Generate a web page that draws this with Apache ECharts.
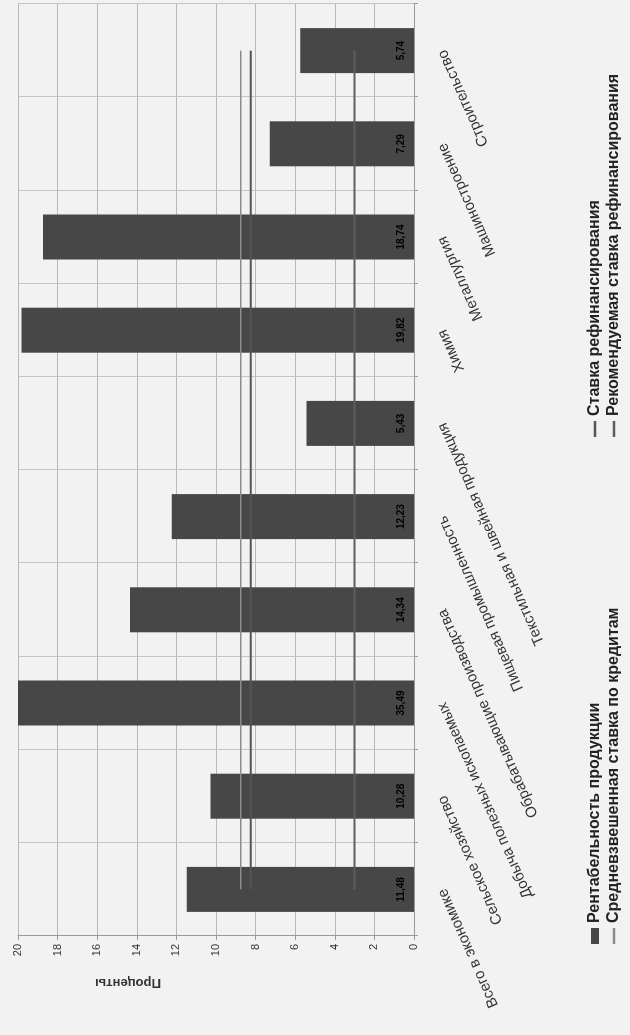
<!DOCTYPE html>
<html><head><meta charset="utf-8">
<script src="https://cdn.jsdelivr.net/npm/echarts@6/dist/echarts.min.js"></script>
<style>
html,body{margin:0;padding:0;background:#f2f2f2;overflow:hidden;width:630px;height:1035px;}
#chart{position:absolute;left:0;top:0;width:1035px;height:630px;transform-origin:0 0;transform:translateY(1035px) rotate(-90deg);}
</style></head><body><div id="chart"></div>
<script>
const categories = ["Всего в экономике", "Сельское хозяйство", "Добыча полезных ископаемых", "Обрабатывающие производства", "Пищевая промышленность", "Текстильная и швейная продукция", "Химия", "Металлургия", "Машиностроение", "Строительство"];
const profitability = [11.48, 10.28, 35.49, 14.34, 12.23, 5.43, 19.82, 18.74, 7.29, 5.74];
const avgLoanRate = [8.75, 8.75, 8.75, 8.75, 8.75, 8.75, 8.75, 8.75, 8.75, 8.75];
const refinancingRate = [8.25, 8.25, 8.25, 8.25, 8.25, 8.25, 8.25, 8.25, 8.25, 8.25];
const recommendedRate = [3, 3, 3, 3, 3, 3, 3, 3, 3, 3];
const valueTicks = [0, 20, 2];

const seriesNames = ["Рентабельность продукции", "Средневзвешенная ставка по кредитам", "Ставка рефинансирования", "Рекомендуемая ставка рефинансирования"];

const lineIcon = 'path://M0,0L0.01,0M0,2.8L16,2.8L16,5.2L0,5.2ZM0,8L0.01,8';
const chart = echarts.init(document.getElementById('chart'), null, {renderer: 'canvas'});
const font = 'Liberation Sans';
const legendText = {fontFamily: font, fontSize: 16, color: '#222', fontWeight: 'bold'};
chart.setOption({
  backgroundColor: '#f2f2f2',
  animation: false,
  grid: {left: 99, right: 4, top: 18, bottom: 216, show: false},
  legend: [
    {data: [{name: seriesNames[0], icon: 'rect'}, {name: seriesNames[1], icon: lineIcon}], orient: 'vertical', left: 86, top: 582, itemGap: 3, itemWidth: 16, itemHeight: 8,
     textStyle: legendText},
    {data: [{name: seriesNames[2], icon: lineIcon}, {name: seriesNames[3], icon: lineIcon}], orient: 'vertical', left: 593, top: 582, itemGap: 3, itemWidth: 16, itemHeight: 8,
     textStyle: legendText}
  ],
  xAxis: {
    type: 'category', data: categories, boundaryGap: true,
    axisLine: {show: true, lineStyle: {color: '#9a9a9a', width: 1}},
    axisTick: {show: true, length: 4, lineStyle: {color: '#9a9a9a'}},
    splitLine: {show: true, lineStyle: {color: '#c4c4c4', width: 1}},
    axisLabel: {rotate: 24, margin: 28, interval: 0, fontFamily: font, fontSize: 15, fontWeight: 'normal', color: '#333'}
  },
  yAxis: {
    type: 'value', min: valueTicks[0], max: valueTicks[1], interval: valueTicks[2],
    name: 'Проценты', nameLocation: 'middle', nameGap: 40, nameRotate: 90,
    nameTextStyle: {fontFamily: font, fontSize: 13, fontWeight: 'bold', color: '#333', padding: [0, 0, 0, 176]},
    axisLine: {show: true, lineStyle: {color: '#9a9a9a'}},
    axisTick: {show: true, length: 4, lineStyle: {color: '#9a9a9a'}},
    splitLine: {show: true, lineStyle: {color: '#b8b8b8', width: 1}},
    axisLabel: {fontFamily: font, fontSize: 11, color: '#333', margin: 8}
  },
  series: [
    {name: seriesNames[0], type: 'bar', data: profitability, barWidth: 45, clip: true,
     itemStyle: {color: '#474747'},
     label: {show: true, position: 'insideBottom', distance: 8, fontFamily: font, fontSize: 10, fontWeight: 'bold', color: '#000',
       formatter: p => p.value.toFixed(2).replace('.', ',')}},
    {name: seriesNames[1], type: 'line', data: avgLoanRate, symbol: 'none', lineStyle: {color: '#8c8c8c', width: 1.5}, itemStyle: {color: '#8c8c8c'}},
    {name: seriesNames[2], type: 'line', data: refinancingRate, symbol: 'none', lineStyle: {color: '#555555', width: 2}, itemStyle: {color: '#555555'}},
    {name: seriesNames[3], type: 'line', data: recommendedRate, symbol: 'none', lineStyle: {color: '#5e5e5e', width: 2}, itemStyle: {color: '#5e5e5e'}}
  ]
});
</script></body></html>
